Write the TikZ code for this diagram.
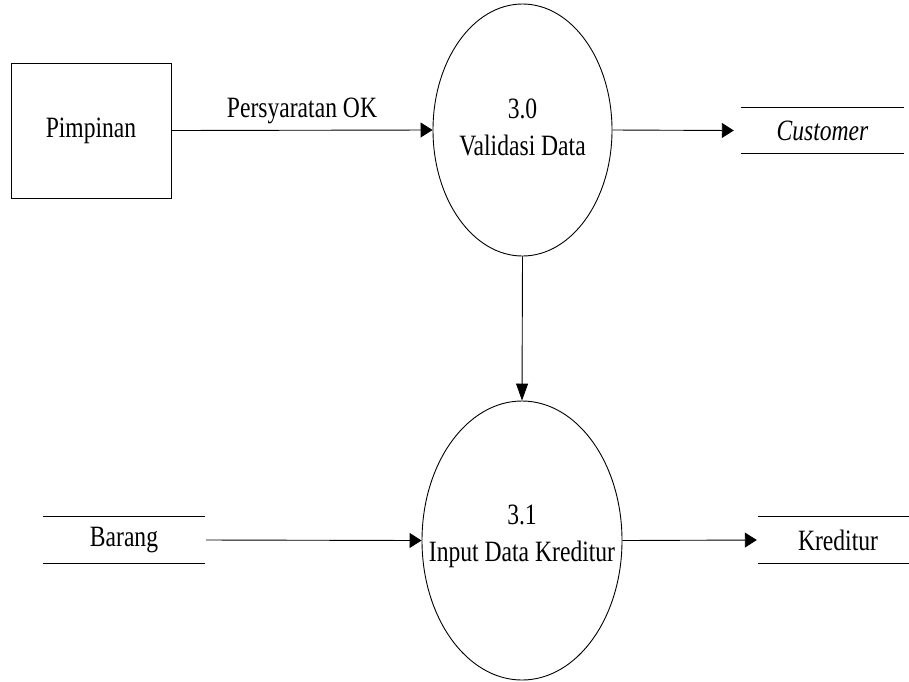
\documentclass[tikz,border=0pt]{standalone}
\usepackage{fontspec}
\setmainfont{Liberation Serif}
\usetikzlibrary{shapes.geometric,arrows.meta}
% narrow the Times-like face to the condensed look of the labels
\newcommand{\nar}[1]{\scalebox{0.8}[1]{#1}}
\begin{document}
\begin{tikzpicture}[x=1pt,y=-1pt,
  txt/.style={font=\fontsize{29.5}{37.6}\selectfont, align=center, inner sep=0pt},
  proc/.style={ellipse, draw, line width=0.9pt, inner sep=0pt},
  entity/.style={rectangle, draw, line width=0.9pt, inner sep=0pt, txt},
  store/.style={rectangle, inner sep=0pt, txt},
  flowh/.style={-{Triangle[length=12pt,width=15pt]}, line width=0.9pt},
  flowv/.style={-{Triangle[length=17pt,width=12pt]}, line width=0.9pt},
  storeline/.style={line width=0.9pt}]
\clip (0,0) rectangle (909,681);
\fill[white] (0,0) rectangle (909,681);

% external entity
\node[entity, minimum width=160pt, minimum height=135pt] (pimp) at (91,130.5) {\nar{Pimpinan}};

% processes: outline first, then the centred label on top
\node[proc, minimum width=179pt, minimum height=252pt] (p30) at (522.5,130) {};
\node[txt] (p30t) at ([yshift=2.5pt]p30.center) {\nar{3.0}\\\nar{Validasi Data}};
\node[proc, minimum width=200pt, minimum height=279pt] (p31) at (522,540.5) {};
\node[txt] (p31t) at ([yshift=4pt]p31.center) {\nar{3.1}\\\nar{Input Data Kreditur}};

% data stores
\node[store, minimum width=163pt, minimum height=45pt] (cust) at (822.5,130.5) {\nar{\itshape Customer}};
\node[store, minimum width=162pt, minimum height=46pt] (bar) at (124,540) {\nar{Barang}};
\node[store, minimum width=160pt, minimum height=46pt] (kred) at (838,540) {\nar{Kreditur}};
\foreach \s in {cust,bar,kred}{
  \draw[storeline] (\s.north west) -- (\s.north east);
  \draw[storeline] (\s.south west) -- (\s.south east);
}

% data flows
\draw[flowh] (pimp.east) -- node[txt, above=6pt] {\nar{Persyaratan OK}} (p30.west);
\draw[flowh] (p30.east) -- ([xshift=-7pt]cust.west);
\draw[flowv] (p30.south) -- (p31.north);
\draw[flowh] ([xshift=1pt]bar.east) -- (p31.west);
\draw[flowh] (p31.east) -- ([xshift=-1pt]kred.west);
\end{tikzpicture}
\end{document}
